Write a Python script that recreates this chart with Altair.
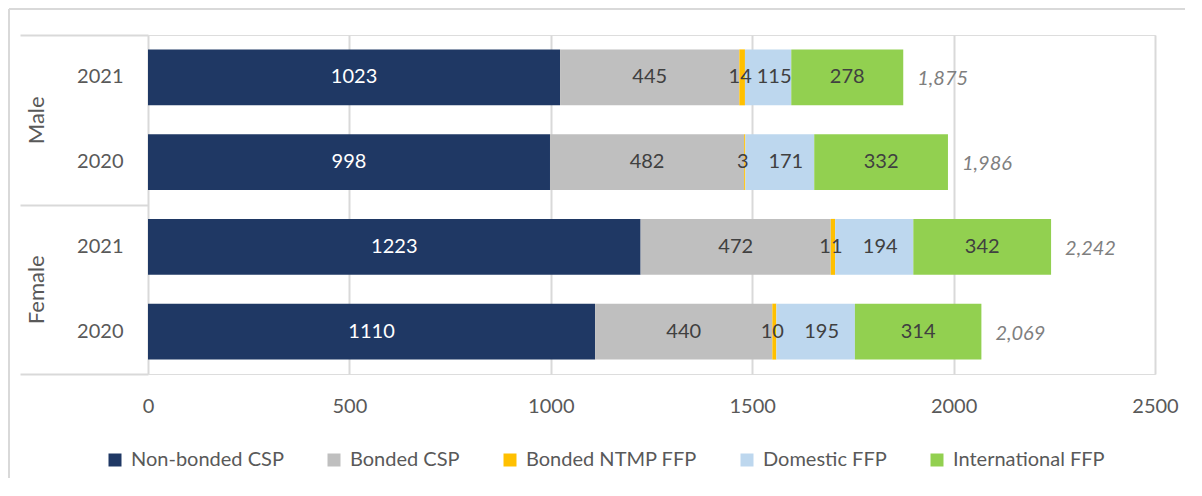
import altair as alt
import pandas as pd

# ---------------- data ----------------
genders = ["Male", "Male", "Female", "Female"]
years = ["2021", "2020", "2021", "2020"]
series = ["Non-bonded CSP", "Bonded CSP", "Bonded NTMP FFP", "Domestic FFP", "International FFP"]
non_bonded_csp = [1023, 998, 1223, 1110]
bonded_csp = [445, 482, 472, 440]
bonded_ntmp_ffp = [14, 3, 11, 10]
domestic_ffp = [115, 171, 194, 195]
international_ffp = [278, 332, 342, 314]
totals = [1875, 1986, 2242, 2069]
x_ticks = [0, 500, 1000, 1500, 2000, 2500]
gender_order = ["Male", "Female"]

colors = ["#1F3864", "#BFBFBF", "#FFC000", "#BDD7EE", "#92D050"]

values_by_series = [non_bonded_csp, bonded_csp, bonded_ntmp_ffp, domestic_ffp, international_ffp]
keys = [f"{g} {y}" for g, y in zip(genders, years)]

rows = []
for i, k in enumerate(keys):
    for j, s in enumerate(series):
        rows.append({"key": k, "gender": genders[i], "year": years[i],
                     "series": s, "order": j, "value": values_by_series[j][i]})
df = pd.DataFrame(rows)
tot_df = pd.DataFrame({"key": keys, "total": totals})
gen_df = pd.DataFrame({"gender": gender_order})

FONT = "Lato"
W, H = 1007, 339

y_enc = alt.Y("key:N", sort=keys, title=None,
              scale=alt.Scale(paddingInner=0.34, paddingOuter=0.17),
              axis=alt.Axis(labelExpr="split(datum.label, ' ')[1]", ticks=False, domain=False,
                            labelPadding=25, labelFontSize=20, labelColor="#595959",
                            labelFont=FONT, grid=False))

x_scale = alt.Scale(domain=[0, 2500], nice=False)

bars = alt.Chart(df).mark_bar().encode(
    x=alt.X("value:Q", stack="zero", scale=x_scale, title=None,
            axis=alt.Axis(values=x_ticks, format="d", grid=True, gridColor="#D9D9D9", gridWidth=2,
                          domain=False, ticks=False, labelPadding=22, labelFontSize=20,
                          labelFlush=False, labelColor="#595959", labelFont=FONT)),
    y=y_enc,
    color=alt.Color("series:N", sort=series,
                    scale=alt.Scale(domain=series, range=colors),
                    legend=alt.Legend(title=None, orient="none", legendX=-43, legendY=415,
                                      direction="horizontal", symbolType="square",
                                      symbolSize=169, symbolStrokeWidth=0, labelFontSize=20,
                                      labelColor="#595959", labelFont=FONT, labelOffset=6,
                                      labelLimit=0, columnPadding=40)),
    order=alt.Order("order:Q"),
)

label_base = alt.Chart(df).transform_window(
    cum="sum(value)", groupby=["key"], sort=[alt.SortField("order")]
).transform_calculate(
    mid="datum.cum - datum.value / 2"
)


def seg_labels(cond, dx):
    return label_base.transform_filter(cond).mark_text(
        fontSize=20, font=FONT, align="center", baseline="middle", dx=dx
    ).encode(
        x=alt.X("mid:Q", scale=x_scale),
        y=alt.Y("key:N", sort=keys),
        text=alt.Text("value:Q"),
        color=alt.condition(alt.datum.series == "Non-bonded CSP", alt.value("#FFFFFF"), alt.value("#404040")),
    )


labels_main = seg_labels((alt.datum.series != "Domestic FFP") & (alt.datum.series != "Bonded NTMP FFP"), 0)
labels_small = seg_labels(alt.datum.series == "Bonded NTMP FFP", -2)
labels_dom = seg_labels(alt.datum.series == "Domestic FFP", 6)

tot_labels = alt.Chart(tot_df).mark_text(fontSize=20, font=FONT, fontStyle="italic", align="left",
                                         baseline="middle", dx=14, dy=2, color="#7F7F7F").encode(
    x=alt.X("total:Q", scale=x_scale),
    y=alt.Y("key:N", sort=keys),
    text=alt.Text("total:Q", format=","),
)

gender_axis = alt.Chart(gen_df).mark_point(opacity=0).encode(
    y=alt.Y("gender:N", sort=gender_order, title=None,
            scale=alt.Scale(type="band", paddingInner=0, paddingOuter=0),
            axis=alt.Axis(orient="left", tickBand="extent", tickSize=128, tickColor="#D9D9D9",
                          tickWidth=2, domain=False, labelAngle=270, labelAlign="center",
                          labelBaseline="middle", labelPadding=-16, labelFontSize=22,
                          labelColor="#595959", labelFont=FONT, grid=False)),
)

border = alt.Chart(pd.DataFrame({"a": [0]})).mark_rule(color="#D9D9D9", strokeWidth=2).encode(
    x=alt.value(-139), y=alt.value(-26), y2=alt.value(H + 110)
) + alt.Chart(pd.DataFrame({"a": [0]})).mark_rule(color="#D9D9D9", strokeWidth=2).encode(
    x=alt.value(-139), x2=alt.value(W + 30), y=alt.value(-26)
)

main = alt.layer(bars, labels_main, labels_small, labels_dom, tot_labels)
chart = alt.layer(main, gender_axis, border).resolve_scale(y="independent").properties(
    width=W, height=H,
    autosize=alt.AutoSizeParams(type="none"),
    padding={"left": 140, "top": 27, "right": 30, "bottom": 104},
).configure_view(stroke=None).configure(background="#FFFFFF")

chart.save("out.html", embed_options={"renderer": "svg", "actions": False})
